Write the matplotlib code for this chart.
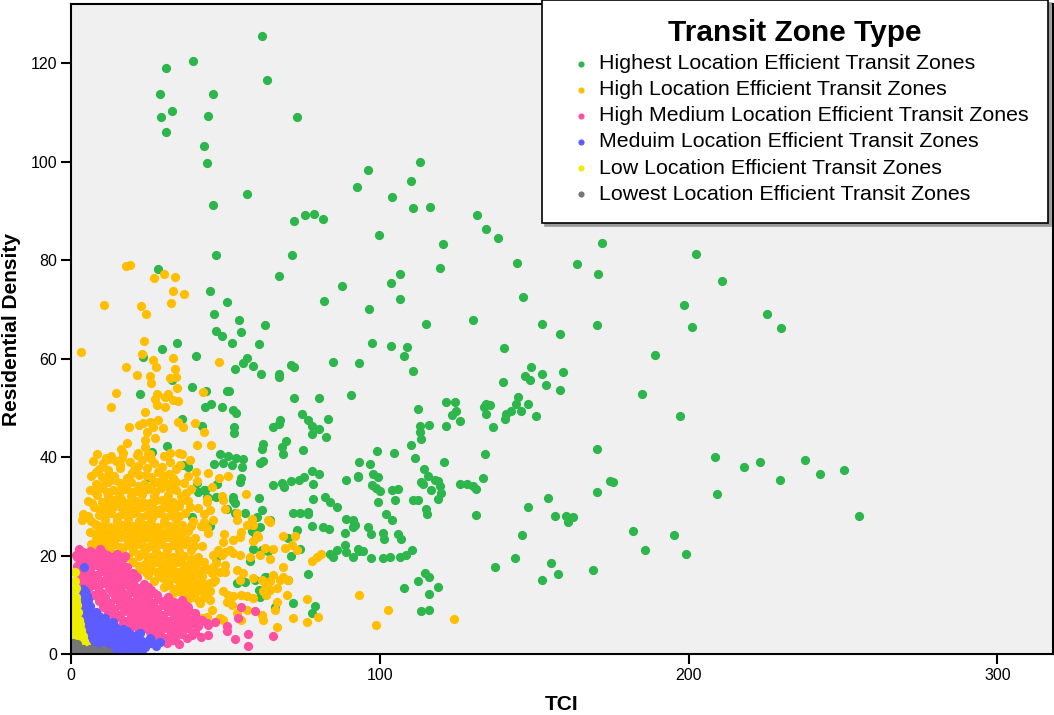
import numpy as np
import matplotlib
matplotlib.use('Agg')
import matplotlib.pyplot as plt

plt.rcParams['font.family'] = ['Liberation Sans', 'DejaVu Sans']

# ── Data (TCI, Residential Density), per zone type ──
highest_pts = [
    (61.7, 125.4), (39.4, 120.5), (30.7, 119.1), (63.5, 116.6), (28.9, 113.7), (46.0, 113.7),
    (32.7, 110.3), (29.2, 109.1), (44.4, 109.3), (73.2, 109.1), (30.7, 106.1), (43.0, 103.2),
    (44.1, 99.8), (57.0, 93.5), (46.0, 91.1), (72.1, 88.0), (75.9, 89.2), (78.7, 89.3),
    (81.6, 88.4), (92.5, 94.9),
    (113.0, 100.0), (96.2, 98.3), (110.2, 96.0), (104.1, 92.8), (110.8, 90.6), (116.3, 90.8),
    (131.6, 89.1), (134.5, 86.4), (138.2, 84.4), (99.7, 85.1), (120.5, 83.2), (119.5, 78.4),
    (144.3, 79.4), (164.0, 79.3), (170.5, 77.1), (106.5, 77.1), (103.5, 75.3), (106.7, 72.0),
    (146.3, 72.4), (96.4, 70.0), (114.9, 67.1), (130.3, 67.8), (152.4, 67.0), (158.3, 65.0),
    (170.3, 66.9), (97.5, 63.2), (103.5, 62.5), (108.7, 62.3), (107.9, 60.6), (140.2, 62.1),
    (93.3, 59.0), (110.9, 57.4), (148.8, 58.2), (146.9, 56.4), (148.5, 55.7), (152.5, 56.9),
    (159.4, 57.2), (140.0, 55.3), (153.7, 54.7), (158.5, 53.6), (90.6, 52.5), (144.8, 52.2),
    (112.3, 49.8), (121.4, 51.2), (124.2, 51.2), (124.6, 49.4), (123.5, 48.6), (125.9, 47.4),
    (121.4, 46.3), (134.5, 50.8), (135.6, 50.5), (133.9, 50.2), (134.5, 48.8), (136.7, 46.2),
    (144.2, 50.8), (148.0, 50.8), (145.8, 49.4), (142.4, 49.4), (141.0, 48.7), (140.7, 47.8),
    (150.6, 48.3), (112.9, 46.3), (115.9, 46.6), (112.9, 45.1), (113.3, 43.7), (110.0, 42.5),
    (111.4, 39.8), (99.1, 41.2), (104.5, 40.8), (93.4, 38.9), (96.8, 38.5), (93.0, 36.0),
    (97.8, 36.5), (99.5, 35.9), (97.4, 34.3), (98.9, 33.8), (100.0, 33.1), (104.1, 33.4),
    (105.9, 33.6), (104.9, 31.2), (99.5, 30.8), (114.4, 37.6), (115.6, 36.2), (113.2, 35.0),
    (114.0, 34.5), (117.9, 35.4), (118.9, 35.1), (119.6, 34.1), (116.6, 33.4), (119.7, 32.6),
    (119.0, 31.4), (110.8, 31.2), (112.5, 31.2), (115.1, 29.5), (115.4, 28.5), (120.8, 39.0),
    (134.2, 40.7), (133.4, 35.7), (125.9, 34.5), (128.1, 34.5), (130.2, 34.2), (131.3, 33.5),
    (131.0, 28.2), (101.9, 28.5), (103.9, 27.3), (91.6, 26.5), (91.4, 25.8), (96.2, 25.7),
    (97.0, 24.3), (100.9, 24.6), (101.4, 23.4), (105.9, 24.4), (106.8, 23.3), (93.3, 21.0),
    (94.6, 20.9), (91.4, 19.7), (97.1, 19.4), (101.1, 19.4), (103.2, 19.7), (106.5, 19.7),
    (108.6, 20.1), (110.4, 21.1), (114.5, 16.5), (116.0, 15.7), (112.4, 14.9), (107.9, 13.4),
    (118.7, 13.7), (115.8, 12.2), (113.3, 8.7), (116.0, 8.9), (154.6, 31.6), (148.0, 29.8),
    (156.6, 28.1), (160.2, 28.0), (162.6, 27.8), (161.1, 26.9), (145.9, 24.1), (143.7, 19.4),
    (137.4, 17.6), (155.4, 18.5), (157.7, 16.2), (152.5, 15.1), (169.1, 17.0), (170.4, 41.6),
    (170.4, 32.8),
    (172.1, 83.5), (202.3, 81.3), (210.7, 75.8), (198.6, 70.8), (225.3, 69.0), (229.8, 66.3),
    (201.2, 66.5), (189.1, 60.7), (184.8, 52.7), (197.2, 48.3), (208.6, 40.0), (217.8, 37.9),
    (223.1, 38.9), (237.8, 39.3), (242.5, 36.5), (250.4, 37.4), (229.5, 35.4), (174.7, 35.2),
    (175.5, 34.9), (209.2, 32.5), (255.1, 28.1), (182.0, 24.9), (195.4, 24.2), (186.0, 21.1),
    (199.1, 20.3),
    (47.1, 81.1), (71.7, 81.0), (28.2, 78.2), (67.3, 76.7), (87.6, 74.7), (44.9, 73.8),
    (50.4, 71.5), (81.8, 71.6), (46.3, 69.0), (54.4, 67.9), (62.9, 66.9), (47.1, 65.6),
    (49.0, 64.6), (55.0, 65.4), (52.2, 63.2), (60.9, 63.0), (34.2, 63.2), (29.4, 62.0),
    (40.6, 60.6), (23.4, 60.4), (57.0, 60.2), (55.7, 59.0), (58.9, 58.5), (53.0, 57.9),
    (61.6, 56.9), (67.3, 56.8), (67.2, 56.3), (71.2, 58.6), (72.3, 58.3), (84.9, 59.2),
    (39.1, 54.3), (43.6, 53.4), (50.4, 53.5), (51.1, 53.5), (22.5, 52.9), (72.2, 52.0),
    (80.3, 52.0), (45.2, 50.8), (43.4, 50.2), (48.9, 50.2), (52.6, 49.5), (53.5, 48.9),
    (74.9, 48.7), (76.6, 47.6), (83.3, 47.7), (67.7, 47.6), (67.5, 46.7), (65.4, 46.2),
    (78.1, 46.3), (80.3, 45.6), (78.2, 44.6), (82.6, 44.1), (52.7, 46.2), (52.9, 44.9),
    (35.9, 47.8), (42.3, 46.4), (69.7, 43.3), (68.3, 42.1), (68.8, 40.6), (62.1, 42.7),
    (61.8, 41.7), (75.2, 41.4), (31.0, 42.2), (26.3, 41.1), (48.2, 40.7), (50.9, 40.2),
    (53.4, 39.9), (55.6, 39.7), (32.6, 55.6),
    (52.0, 38.4), (49.3, 38.8), (55.5, 38.0), (46.3, 38.6), (61.2, 38.7), (62.2, 39.2),
    (36.3, 38.4), (38.0, 38.0), (65.5, 34.4), (68.2, 34.8), (71.1, 35.1), (68.9, 34.0),
    (73.9, 35.4), (75.5, 36.0), (77.9, 37.2), (78.4, 34.6), (80.4, 36.5), (89.0, 35.4),
    (92.8, 36.1), (40.7, 34.8), (43.0, 33.4), (47.4, 34.5), (41.0, 33.0), (43.9, 31.9),
    (47.1, 31.8), (52.3, 31.9), (53.1, 30.6), (52.5, 31.3), (60.9, 31.6), (50.4, 29.4),
    (53.1, 28.7), (56.3, 28.6), (61.7, 29.2), (60.1, 27.9), (64.4, 27.2), (61.2, 25.7),
    (58.5, 25.0), (59.5, 24.5), (72.0, 28.6), (74.1, 28.6), (76.6, 28.4), (78.1, 26.0),
    (81.7, 25.7), (83.6, 25.4), (73.2, 25.2), (70.3, 23.5), (59.0, 21.3), (62.0, 21.1),
    (71.4, 19.9), (74.1, 21.3), (86.0, 21.1), (84.9, 19.8), (83.8, 20.4), (88.7, 22.1),
    (89.0, 20.8), (92.8, 21.3), (91.4, 27.2), (91.9, 26.2), (89.2, 27.4), (88.7, 24.6),
    (86.0, 29.8), (82.2, 31.9), (83.8, 30.9), (78.4, 31.4), (76.8, 28.9), (63.3, 15.7),
    (60.9, 13.0), (59.5, 15.0), (53.6, 14.4), (56.3, 14.7), (70.3, 15.0), (76.8, 16.2),
    (72.0, 10.4), (79.0, 9.8), (78.2, 8.3), (66.0, 9.6), (40.7, 19.4), (47.1, 19.4),
    (57.9, 18.8), (63.9, 20.9), (62.8, 15.7), (61.2, 11.5), (45.0, 25.9), (55.2, 35.7),
    (54.7, 35.0), (43.4, 33.3), (32.6, 34.0), (39.1, 27.9), (42.3, 25.9), (25.0, 36.0),
    (44.4, 31.6),
]

high_pts = [
    (17.7, 78.7), (19.1, 78.9), (30.0, 77.1), (26.9, 76.4), (33.6, 76.6), (33.0, 73.8),
    (36.6, 73.1), (32.4, 71.3), (10.8, 70.9), (22.7, 70.7), (24.3, 69.0), (3.2, 61.4),
    (23.6, 63.6), (22.9, 60.9), (26.6, 59.8), (32.9, 60.2), (48.0, 59.3), (17.8, 58.3),
    (27.6, 58.3), (33.6, 57.9), (21.4, 56.7), (25.5, 56.4), (25.8, 55.1), (32.0, 56.1),
    (34.0, 56.3), (34.4, 54.1), (14.5, 53.1), (13.0, 50.2), (42.8, 53.2), (27.8, 52.9),
    (27.2, 51.7), (31.3, 52.7), (33.1, 51.5), (34.5, 51.4), (30.5, 52.1), (27.7, 50.5),
    (30.5, 50.1), (23.9, 49.1), (21.9, 46.5), (23.4, 47.0), (25.6, 47.2), (28.3, 47.5),
    (26.4, 46.1), (24.5, 45.1), (29.9, 45.8), (34.7, 47.1), (36.3, 46.0), (40.1, 46.9),
    (43.0, 45.0), (18.9, 46.0), (18.0, 42.9), (16.1, 41.7), (23.9, 43.4), (27.2, 43.8),
    (23.9, 42.1), (21.6, 40.9), (25.6, 40.7), (32.0, 40.9), (35.0, 40.9), (40.7, 42.4),
    (45.2, 42.5), (12.4, 39.6), (16.5, 39.9),
    (8.5, 40.6), (13, 40.3), (17, 40.8), (21.5, 40.4), (25, 40.7), (30, 40.2), (36, 40.6),
    (7, 39.1), (10.5, 38.8), (14.5, 39.2), (19, 38.9), (23, 39.3), (27, 38.8), (32, 39.0), (38.5, 39.3),
    (9, 37.6), (12, 37.3), (16, 37.7), (20.5, 37.4), (24.5, 37.8), (28.5, 37.2), (34, 37.5), (40.5, 37.0),
    (6.5, 36.2), (10, 35.9), (14, 36.1), (18, 35.8), (22, 36.3), (26, 35.9), (30, 36.2), (33, 35.7),
    (8, 34.6), (12, 34.9), (16, 34.7), (19.5, 35.0), (23.5, 34.5), (27.5, 34.9), (31.5, 34.6), (36.5, 34.8),
    (6, 33.4), (10, 33.7), (13.5, 33.3), (17.5, 33.6), (21, 33.2), (25, 33.5), (29, 33.8), (34, 33.3), (39, 33.6),
    (8.5, 32.3), (12, 32.0), (15.5, 32.4), (19.5, 32.1), (23, 32.5), (27, 32.0), (31.5, 32.3), (35.5, 32.1),
    (5.5, 31.1), (10, 30.8), (14, 31.2), (17, 30.9), (21, 31.0), (25.5, 30.7), (29.5, 31.2), (33, 30.9),
    (38, 31.1), (44, 30.8),
    (7.5, 29.9), (11.5, 29.6), (15.5, 30.0), (19, 29.7), (23, 29.9), (27, 29.5), (31, 29.8), (35, 30.0), (41, 29.6),
    (4, 28.5), (9, 28.3), (13, 28.7), (16.5, 28.4), (20.5, 28.6), (24.5, 28.2), (28.5, 28.6), (32.5, 28.3),
    (37, 28.7), (43, 28.4),
    (3.5, 27.2), (6.5, 27.0), (11, 27.3), (15, 27.1), (18.5, 27.4), (22, 27.0), (26, 27.3), (30, 27.1),
    (34, 27.4), (39.5, 27.0), (46, 27.3),
    (8.5, 26.1), (12.5, 25.8), (16.5, 26.2), (20, 25.9), (24, 26.1), (28, 25.7), (32, 26.0), (36, 26.2), (42, 25.9),
    (6, 24.7), (10.5, 24.9), (14, 24.6), (18, 24.9), (22, 24.7), (25.5, 25.0), (29.5, 24.6), (33.5, 24.8),
    (38, 24.9), (44.5, 24.6),
    (8, 23.6), (12, 23.3), (16, 23.7), (20, 23.4), (23.5, 23.6), (27.5, 23.3), (31, 23.7), (35, 23.4), (40, 23.6),
    (6.5, 22.3), (10, 22.0), (14, 22.4), (18, 22.1), (21.5, 22.3), (25.5, 22.0), (29, 22.4), (33, 22.1),
    (37, 22.3), (42.5, 22.0),
    (9, 21.1), (13, 20.8), (16.5, 21.2), (20, 20.9), (24, 21.1), (27.5, 20.8), (31, 21.2), (35, 20.9), (39, 21.1),
    (12, 19.9), (18.5, 19.7), (22, 20.0), (26, 19.6), (29.5, 19.9), (33, 19.7), (36.5, 20.0), (41, 19.6),
    (20, 18.6), (24, 18.3), (27.5, 18.7), (31, 18.4), (34.5, 18.6), (38.5, 18.3), (43, 18.6),
    (22.5, 17.3), (26, 17.0), (29.5, 17.4), (33, 17.1), (36.5, 17.3), (40, 17.0), (44.5, 17.3),
    (25, 16.1), (28.5, 15.8), (32, 16.2), (35.5, 15.9), (39, 16.1), (42.5, 15.8),
    (27, 14.9), (31, 14.6), (34.5, 15.0), (38, 14.7), (41.5, 14.9), (46, 14.6),
    (30, 13.6), (33.5, 13.3), (37, 13.7), (40.5, 13.4), (44, 13.6),
    (33, 12.3), (36.5, 12.0), (40, 12.4), (43.5, 12.1),
    (38, 11.1), (41.5, 10.8), (45, 11.0),
    (11.2, 39.8), (15.8, 38.3), (21.8, 38.1), (25.8, 39.6), (29.6, 37.9), (35.2, 38.4), (8.2, 36.9),
    (12.4, 36.6), (19.8, 36.7), (24.2, 36.4), (28.1, 36.9), (31.8, 36.6), (37.8, 36.1), (10.2, 34.2),
    (14.1, 35.3), (17.8, 34.1), (21.7, 34.2), (25.9, 34.2), (29.6, 35.3), (33.9, 34.9), (7.9, 32.9),
    (11.8, 33.0), (15.6, 33.1), (19.4, 32.9), (23.1, 33.6), (27.3, 32.8), (32.1, 33.5), (37.2, 32.6),
    (6.9, 30.6), (12.3, 31.2), (16.1, 31.5), (19.2, 30.8), (23.3, 30.9), (27.6, 31.3), (31.6, 30.7),
    (35.9, 31.3), (9.4, 29.2), (13.4, 29.7), (17.2, 29.4), (21.2, 29.3), (25.1, 29.4), (29.2, 29.4),
    (33.2, 29.3), (38.6, 29.9), (5.6, 28.0), (10.9, 28.0), (14.8, 27.9), (18.6, 28.1), (22.6, 27.8),
    (26.5, 28.0), (30.6, 27.8), (35.0, 28.0), (7.8, 26.4), (10.6, 25.9), (14.6, 25.7), (18.3, 26.3),
    (22.0, 25.8), (26.0, 25.9), (30.0, 26.4), (34.0, 25.8), (39.0, 26.0), (8.3, 24.6), (12.2, 24.8),
    (16.0, 24.4), (20.0, 24.6), (24.0, 24.9), (27.6, 24.4), (31.6, 25.0), (35.8, 24.5), (10.0, 23.3),
    (14.0, 23.1), (18.0, 23.4), (21.8, 23.1), (25.6, 23.5), (29.3, 23.0), (33.1, 23.4), (37.5, 23.1),
    (8.4, 22.0), (12.1, 21.8), (16.0, 21.7), (19.8, 22.2), (23.6, 21.7), (27.4, 22.2), (31.2, 21.7),
    (35.0, 22.2), (39.8, 22.0), (22.5, 20.4), (24.8, 19.4), (28.0, 20.4), (31.3, 19.6), (35.0, 19.6),
    (39.0, 19.3), (22.0, 17.9), (25.8, 18.0), (29.4, 18.0), (32.8, 17.8), (36.6, 18.0), (40.5, 18.2),
    (24.3, 16.7), (27.8, 16.7), (31.2, 16.6), (34.8, 16.6), (38.3, 16.5), (42.0, 16.8), (29.8, 15.4),
    (33.2, 15.4), (36.7, 15.3), (40.2, 15.5), (31.6, 14.0), (35.2, 14.1), (38.8, 14.0), (42.2, 14.2),
    (34.8, 12.8), (38.2, 12.8), (41.8, 12.9), (39.8, 11.5), (43.2, 11.6),
    (50.9, 36.2), (56.6, 32.4), (43.9, 31.5), (48.8, 32.0), (49.3, 31.3), (49.8, 29.4), (45.0, 29.2),
    (53.6, 28.6), (53.8, 27.2), (58.5, 27.5), (59.0, 26.2), (56.9, 26.2), (63.9, 27.2), (64.4, 26.9),
    (43.9, 25.5), (43.0, 26.9), (49.6, 24.4), (55.2, 24.8), (54.7, 23.8), (60.1, 24.2), (60.6, 23.8),
    (59.0, 23.0), (52.5, 23.2), (49.3, 22.7), (47.7, 21.1), (48.8, 20.1), (49.8, 20.8), (46.1, 20.1),
    (46.9, 18.4), (51.5, 21.1), (52.5, 20.5), (54.7, 20.1), (57.9, 19.6), (61.2, 20.1), (62.8, 21.5),
    (65.3, 21.3), (68.7, 24.0), (72.5, 24.0), (71.7, 22.1), (73.2, 21.1), (69.3, 21.6), (64.4, 19.3),
    (68.7, 17.7), (77.9, 18.9), (79.5, 19.6), (81.1, 20.3), (42.8, 17.1), (46.1, 17.7), (49.8, 18.1),
    (45.5, 16.4), (48.2, 16.7), (49.8, 16.7), (53.6, 17.1), (55.8, 16.4), (54.7, 15.0), (59.0, 15.4),
    (61.7, 15.0), (62.8, 14.4), (64.4, 14.8), (65.5, 16.0), (67.6, 15.0), (68.7, 15.7), (70.3, 15.0),
    (42.8, 14.4), (45.0, 14.4), (46.6, 15.0), (45.0, 12.7), (49.3, 12.7), (50.9, 12.0), (52.5, 11.7),
    (50.4, 10.6), (52.0, 10.0), (55.2, 12.0), (56.9, 11.7), (59.0, 11.3), (62.2, 12.7), (64.4, 13.0),
    (66.6, 13.4), (63.3, 12.0), (69.8, 12.0), (66.6, 10.6), (66.0, 9.0), (61.7, 8.0), (62.2, 6.9),
    (55.2, 6.9), (56.9, 9.0), (53.6, 8.3), (48.2, 7.3), (49.3, 6.9), (42.3, 7.4), (43.9, 7.6),
    (41.75, 10.3), (71.9, 7.4), (76.3, 11.2), (80.0, 7.6), (76.3, 6.4), (66.6, 5.4), (45.5, 8.9),
    (39.6, 6.4), (38.5, 6.3), (44.4, 36.7), (47.8, 35.8), (40.9, 35.2), (45.5, 34.0),
    (93.3, 12.0), (102.6, 8.9), (98.9, 5.9), (124.0, 7.2),
]

high_medium_pts = [
    (2.5, 21.3), (6, 21.0), (9.5, 21.4),
    (1.5, 20.2), (4.5, 20.0), (8, 20.4), (11.5, 20.1), (15, 20.3), (17.5, 19.9),
    (3, 19.1), (6, 18.8), (9.5, 19.2), (13, 18.9), (16.5, 19.0),
    (2, 17.8), (5, 17.6), (8, 18.0), (11.5, 17.7), (15, 17.9), (18, 17.6),
    (3.5, 16.7), (6.5, 16.4), (10, 16.8), (13.5, 16.5), (17, 16.7), (20, 16.4),
    (2.5, 15.5), (5.5, 15.2), (8.5, 15.6), (12, 15.3), (15.5, 15.5), (19, 15.2), (21.5, 15.6),
    (4, 14.3), (7, 14.0), (10.5, 14.4), (14, 14.1), (17.5, 14.3), (20.5, 14.0), (23.5, 14.3),
    (5.5, 13.1), (9, 12.8), (12.5, 13.2), (16, 12.9), (19.5, 13.1), (22.5, 12.8), (26, 13.0),
    (7.5, 11.9), (11, 11.6), (14.5, 12.0), (18, 11.7), (21.5, 11.9), (25, 11.6), (28, 11.9), (31.5, 11.6),
    (9, 10.7), (12.5, 10.4), (16, 10.8), (19.5, 10.5), (23, 10.7), (26.5, 10.4), (30, 10.8), (33.5, 10.5), (36, 10.9),
    (10.5, 9.5), (14, 9.2), (17.5, 9.6), (21, 9.3), (24.5, 9.5), (28, 9.2), (31.5, 9.6), (35, 9.3), (38, 9.5),
    (12, 8.3), (15.5, 8.0), (19, 8.4), (22.5, 8.1), (26, 8.3), (29.5, 8.0), (33, 8.4), (36.5, 8.1), (40, 8.3),
    (14, 7.1), (17.5, 6.8), (21, 7.2), (24.5, 6.9), (28, 7.1), (31.5, 6.8), (35, 7.2), (38.5, 6.9), (42.5, 7.0),
    (16.5, 5.9), (20, 5.6), (23.5, 6.0), (27, 5.7), (30.5, 5.9), (34, 5.6), (37.5, 6.0), (41, 5.7), (44.5, 5.9),
    (22, 4.7), (25.5, 4.4), (29, 4.8), (32.5, 4.5), (36, 4.7), (40, 4.4),
    (27, 3.5), (30.5, 3.2), (34, 3.6), (37.5, 3.3), (42, 3.4),
    (31, 2.3), (35, 2.0),
    (4, 20.8), (7.2, 20.6), (10.5, 20.6), (13.2, 19.8), (2, 19.6), (4.6, 19.0), (7.8, 19.2),
    (11.2, 18.6), (14.6, 18.5), (3.5, 18.2), (6.5, 17.9), (9.8, 17.5), (13.2, 17.4), (16.5, 17.8),
    (2.8, 16.5), (5, 16.3), (8.3, 16.1), (11.8, 16.1), (15.3, 16.2), (18.5, 16.0), (4, 15.7),
    (7, 15.0), (10.2, 14.9), (13.8, 14.8), (17.2, 14.9), (20.2, 14.8), (5.5, 14.0), (8.8, 13.6),
    (12.2, 13.6), (15.8, 13.6), (19.0, 13.7), (22.0, 13.5), (24.8, 13.6), (10.0, 12.4), (13.6, 12.4),
    (17.0, 12.4), (20.6, 12.3), (24.0, 12.3), (27.0, 12.3), (10.8, 11.2), (14.3, 11.2), (17.8, 11.1),
    (21.3, 11.2), (24.8, 11.1), (28.2, 11.1), (31.8, 11.0), (12.2, 10.0), (15.8, 9.9), (19.2, 9.9),
    (22.8, 10.0), (26.2, 9.8), (29.8, 9.9), (33.4, 9.9), (36.8, 10.0), (13.8, 8.8), (17.3, 8.8),
    (20.8, 8.7), (24.3, 8.8), (27.8, 8.7), (31.3, 8.8), (34.8, 8.7), (38.3, 8.8), (15.8, 7.6),
    (19.3, 7.5), (22.8, 7.6), (26.3, 7.5), (29.8, 7.6), (33.3, 7.5), (36.8, 7.6), (40.4, 7.6),
    (18.3, 6.3), (21.8, 6.4), (25.3, 6.3), (28.8, 6.4), (32.3, 6.3), (35.8, 6.4), (39.3, 6.3),
    (24, 5.2), (27.5, 5.1), (31, 5.2), (34.5, 5.1), (38, 5.2), (28.8, 4.0), (32.3, 4.0), (35.8, 4.0),
    (39.3, 3.9), (33.0, 2.8), (29, 2.7),
    (55.2, 9.6), (59.5, 8.8), (54.2, 7.4), (43.9, 6.3), (50.4, 5.6), (50.4, 4.6), (44.4, 3.9),
    (53.1, 3.0), (57.4, 4.1), (57.4, 1.7), (65.5, 3.7), (46.5, 6.6),
]

medium_pts = [
    (4.2, 17.7), (4, 12.2), (5.2, 11.8), (3, 11.2), (5.5, 11.0), (3.5, 10.0), (6, 9.8),
    (3, 8.8), (5.5, 8.9), (8, 8.6), (4, 7.6), (6.5, 7.5), (9, 7.7), (11, 7.4),
    (3.5, 6.4), (6, 6.3), (8.5, 6.5), (11, 6.2), (13.5, 6.4),
    (4.5, 5.2), (7, 5.1), (9.5, 5.3), (12, 5.0), (14.5, 5.2), (17, 5.0),
    (4, 4.0), (6.5, 3.9), (9, 4.1), (11.5, 3.8), (14, 4.0), (16.5, 3.9), (19, 4.1), (21.5, 3.8),
    (5, 2.8), (7.5, 2.7), (10, 2.9), (12.5, 2.6), (15, 2.8), (17.5, 2.7), (20, 2.9), (23, 2.6), (26, 2.8),
    (6, 1.6), (8.5, 1.5), (11, 1.7), (13.5, 1.4), (16, 1.6), (18.5, 1.5), (21, 1.7), (24, 1.4), (27.5, 1.7),
    (9, 0.6), (12, 0.5), (15, 0.7), (18, 0.5), (23, 0.8), (22.3, 4.2), (28.8, 2.5), (25.5, 3.3),
    (3.2, 9.4), (4.8, 9.6), (5, 8.2), (7, 8.2), (5.2, 7.0), (7.8, 7.0), (10, 7.0), (4.8, 5.8),
    (7.3, 5.8), (9.8, 5.9), (12.3, 5.8), (5.6, 4.6), (8, 4.6), (10.5, 4.6), (13, 4.5), (15.5, 4.6),
    (18, 4.6), (6.2, 3.3), (8.8, 3.3), (11.2, 3.3), (13.8, 3.3), (16.2, 3.3), (18.8, 3.3), (21.5, 3.2),
    (7.2, 2.1), (9.8, 2.2), (12.2, 2.1), (14.8, 2.2), (17.2, 2.1), (19.8, 2.2), (22.5, 2.1), (25.5, 2.2),
    (10.5, 1.0), (13.5, 1.1), (16.5, 1.0), (19.5, 1.0), (21.5, 0.6), (3.8, 13.2), (4.6, 12.8),
]

low_pts = [
    (1.3, 16.7), (1.3, 14.8), (1.0, 12.5), (1.5, 11.5), (0.8, 10.5), (2.0, 10.0), (1.0, 9.0),
    (2.3, 8.5), (1.2, 7.5), (2.6, 7.0), (0.8, 6.2), (3.0, 6.0), (1.8, 5.5), (3.3, 4.8),
    (0.8, 4.5), (2.3, 4.0), (3.8, 3.6), (1.2, 3.0), (2.8, 2.7), (4.2, 2.6), (0.7, 2.0),
    (1.9, 1.7), (3.4, 1.8), (4.8, 1.9), (1.0, 1.0), (2.6, 1.0), (4.2, 1.1), (1.5, 13.5),
    (0.7, 11.8), (1.6, 10.8), (1.7, 8.2), (0.6, 7.5), (2.0, 6.6), (0.8, 5.5), (2.7, 5.2),
    (1.6, 4.6), (3.1, 4.2), (1.7, 2.5), (3.6, 2.3), (0.8, 3.6),
]

lowest_pts = [
    (0.5, 0.3), (2.0, 0.4), (3.5, 0.3), (5.0, 0.4), (6.5, 0.3), (8.0, 0.3), (9.5, 0.3),
    (11.0, 0.2), (1.0, 1.2), (2.5, 1.3), (4.0, 1.0), (0.5, 2.2), (1.8, 2.0), (6.0, 1.0),
    (0.3, 1.5), (7.5, 0.9), (10.5, 0.9), (12.0, 0.4),
]

labels = [
    'Highest Location Efficient Transit Zones',
    'High Location Efficient Transit Zones',
    'High Medium Location Efficient Transit Zones',
    'Meduim Location Efficient Transit Zones',
    'Low Location Efficient Transit Zones',
    'Lowest Location Efficient Transit Zones',
]
colors = ['#2DB64B', '#FFBF00', '#FF4FA3', '#5C5CFF', '#EEEE00', '#767676']
series = [highest_pts, high_pts, high_medium_pts, medium_pts, low_pts, lowest_pts]

fig = plt.figure(figsize=(10.54, 7.15), dpi=100)
ax = fig.add_axes([71 / 1054, 61 / 715, 982 / 1054, 650 / 715])
ax.set_facecolor('#F0F0F0')

for pts, col, lab in zip(series, colors, labels):
    arr = np.array(pts)
    ax.scatter(arr[:, 0], arr[:, 1], s=44, c=col, linewidths=0, label=lab, zorder=2)

ax.set_xlim(0, 318)
ax.set_ylim(0, 132)
ax.set_xticks([0, 100, 200, 300])
ax.set_yticks([0, 20, 40, 60, 80, 100, 120])
ax.tick_params(direction='out', length=7, width=1.5, labelsize=11.5, pad=3, colors='black')
for sp in ax.spines.values():
    sp.set_linewidth(1.5)

ax.set_xlabel('TCI', fontsize=15, fontweight='bold', labelpad=9)
ax.set_ylabel('Residential Density', fontsize=15, fontweight='bold', labelpad=7)

leg = ax.legend(loc='upper right', bbox_to_anchor=(1048 / 1054, 1.0),
                bbox_transform=fig.transFigure,
                title='Transit Zone Type', fontsize=15.4, markerscale=0.67,
                frameon=True, fancybox=False, edgecolor='black', framealpha=1,
                borderpad=0.9, handlelength=1.8, handletextpad=-0.05,
                labelspacing=0.33, borderaxespad=0,
                shadow={'ox': 2, 'oy': -2, 'color': '#999999', 'alpha': 1})
leg.get_title().set_fontsize(21.5)
leg.get_title().set_fontweight('bold')
leg.get_frame().set_linewidth(1.2)
leg.set_zorder(5)

fig.savefig('out.png', dpi=100)
